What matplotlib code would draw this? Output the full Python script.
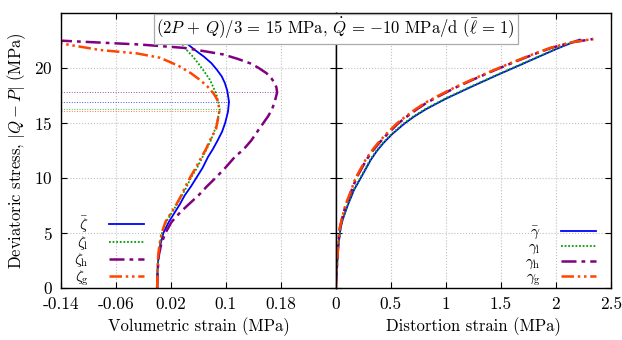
import numpy as np
import matplotlib
matplotlib.use("Agg")
from matplotlib import pyplot as plt

plt.rcParams['font.family'] = 'serif'
plt.rcParams['font.serif'] = ['cmr10']
plt.rcParams['mathtext.fontset'] = 'cm'
plt.rcParams['axes.unicode_minus'] = False
plt.rcParams['axes.formatter.use_mathtext'] = True

# deviatoric stress levels (MPa) and strains
# volumetric strain, left panel
zbar_q = [0, 1.5, 3, 4, 5, 6, 6.9, 7.6, 8.4, 9.2, 10, 10.9, 11.9, 12.6, 13.4, 14.2, 15, 16, 16.9,
          17.9, 18.6, 19.2, 19.8, 20.4, 21.0, 21.6, 22.1, 22.55]
zbar_e = [0, 0.0005, 0.002, 0.005, 0.009, 0.017, 0.026, 0.033, 0.040, 0.049, 0.057, 0.066, 0.074, 0.081, 0.088,
          0.0945, 0.099, 0.103, 0.1045, 0.102, 0.0985, 0.094, 0.087, 0.079, 0.068, 0.055, 0.045, 0.036]

zl_q = [0, 1.5, 3, 4, 5, 6, 6.9, 7.6, 8.4, 9.2, 10, 10.9, 11.9, 12.6, 13.4, 14.2, 15, 16.25, 17.0,
        17.7, 18.9, 19.6, 20.4, 21.0, 21.6, 22.1, 22.55]
zl_e = [0, 0.0004, 0.0016, 0.004, 0.007, 0.013, 0.022, 0.029, 0.036, 0.043, 0.049, 0.058, 0.066, 0.072, 0.078,
        0.083, 0.087, 0.091, 0.0885, 0.0855, 0.0767, 0.069, 0.0597, 0.052, 0.043, 0.037, 0.0306]

zh_q = [0, 1.5, 3, 4, 5, 6, 6.9, 7.6, 8.4, 9.2, 10, 10.9, 11.9, 12.6, 13.4, 14.4, 15.6, 16.2, 16.9,
        17.75, 18.2, 18.6, 19.0, 19.5, 20.0, 20.4, 20.8, 21.2, 21.5, 21.8, 22.1, 22.45, 22.55]
zh_e = [0, 0.0006, 0.0025, 0.006, 0.012, 0.021, 0.034, 0.046, 0.060, 0.072, 0.085, 0.099, 0.113, 0.126, 0.137,
        0.148, 0.1615, 0.167, 0.171, 0.1745, 0.1735, 0.171, 0.1665, 0.159, 0.147, 0.135, 0.117, 0.096, 0.068,
        0.038, -0.025, -0.14, -0.17]

zg_q = [0, 1.5, 3, 4, 5, 6, 6.9, 7.6, 8.4, 9.2, 10, 10.9, 11.9, 12.6, 13.4, 14.4, 15.2, 16.05, 16.9,
        17.3, 17.7, 18.3, 18.9, 19.5, 20.1, 20.5, 20.9, 21.3, 21.6, 22.2, 22.5]
zg_e = [0, 0.0004, 0.0015, 0.0035, 0.0065, 0.012, 0.021, 0.028, 0.035, 0.041, 0.0476, 0.056, 0.0646, 0.071,
        0.0767, 0.0855, 0.088, 0.0905, 0.0888, 0.0855, 0.0815, 0.073, 0.062, 0.049, 0.033, 0.019, 0.004,
        -0.03, -0.083, -0.14, -0.17]

# distortion strain, right panel
gbar_q = [0, 1, 2.2, 3.75, 5.0, 5.52, 6.2, 7.46, 8.9, 10, 11.64, 12.4, 13.13, 13.95, 14.9, 15.55, 16.22,
          17.18, 18.3, 19.34, 20.26, 21.1, 21.8, 22.55]
gbar_e = [0, 0.005, 0.012, 0.022, 0.037, 0.045, 0.062, 0.106, 0.165, 0.227, 0.318, 0.370, 0.430, 0.51,
          0.621, 0.71, 0.818, 1.0, 1.24, 1.47, 1.68, 1.87, 2.03, 2.218]
gl_e = [0, 0.005, 0.012, 0.022, 0.037, 0.045, 0.061, 0.104, 0.162, 0.222, 0.312, 0.364, 0.424, 0.503,
        0.612, 0.70, 0.808, 0.99, 1.23, 1.46, 1.67, 1.86, 2.02, 2.21]

gg_q = [0, 1, 2.2, 3.75, 5.0, 5.52, 6.2, 7.46, 8.9, 10, 11.64, 12.4, 13.13, 13.95, 14.9, 15.5, 16.2,
        16.8, 17.5, 18.25, 18.97, 19.8, 20.62, 21.25, 21.8, 22.3, 22.6]
gg_e = [0, 0.004, 0.011, 0.020, 0.030, 0.037, 0.052, 0.085, 0.140, 0.180, 0.270, 0.322, 0.380, 0.455,
        0.550, 0.625, 0.720, 0.810, 0.940, 1.09, 1.25, 1.44, 1.64, 1.80, 1.95, 2.14, 2.34]
gh_e = [0, 0.004, 0.011, 0.020, 0.031, 0.038, 0.054, 0.088, 0.145, 0.187, 0.278, 0.331, 0.390, 0.466,
        0.562, 0.637, 0.733, 0.823, 0.953, 1.10, 1.26, 1.45, 1.65, 1.81, 1.96, 2.145, 2.34]

vol_ticks = [-0.14, -0.06, 0.02, 0.1, 0.18]
vol_labels = ['-0.14', '-0.06', '0.02', '0.1', '0.18']
dis_ticks = [0, 0.5, 1, 1.5, 2, 2.5]
dis_labels = ['0', '0.5', '1', '1.5', '2', '2.5']
q_ticks = [0, 5, 10, 15, 20]

c_blue = '#0000ff'
c_green = '#00a000'
c_purple = '#800080'
c_orange = '#ff4500'

st_blue = dict(color=c_blue, ls='-', lw=1.3)
st_green = dict(color=c_green, ls=(0, (1, 1)), lw=1.3)
st_purple = dict(color=c_purple, ls=(0, (6, 2, 1.5, 2)), lw=1.8)
st_orange = dict(color=c_orange, ls=(0, (5, 1.5, 1, 1.5, 1, 1.5)), lw=1.8)

fig, (ax1, ax2) = plt.subplots(1, 2, figsize=(6.22, 3.40), dpi=100, sharey=True)
fig.subplots_adjust(left=0.098, right=0.982, top=0.963, bottom=0.153, wspace=0)

# left panel
series = [(zbar_e, zbar_q, st_blue, r'$\bar{\zeta}$'),
          (zl_e, zl_q, st_green, r'$\zeta_\mathrm{l}$'),
          (zh_e, zh_q, st_purple, r'$\zeta_\mathrm{h}$'),
          (zg_e, zg_q, st_orange, r'$\zeta_\mathrm{g}$')]
for e, q, st, lab in series:
    ax1.plot(e, q, label=lab, **st)
    i = int(np.argmax(e))
    ax1.hlines(q[i], -0.14, e[i], color=st['color'], ls=':', lw=0.7, alpha=0.7)

ax1.set_xlim(-0.14, 0.26)
ax1.set_ylim(0, 25)
ax1.set_xticks(vol_ticks)
ax1.set_xticklabels(vol_labels)
ax1.set_yticks(q_ticks)
ax1.set_xlabel('Volumetric strain (MPa)', fontsize=12)
ax1.set_ylabel(r'Deviatoric stress, $|Q-P|$ (MPa)', fontsize=12)
ax1.legend(loc='lower left', bbox_to_anchor=(0.049, 0.0), frameon=False, markerfirst=False,
           fontsize=11, handlelength=2.3, handletextpad=1.3, labelspacing=-0.05,
           borderpad=0.0, borderaxespad=0.0)

# right panel
series2 = [(gbar_e, gbar_q, st_blue, r'$\bar{\gamma}$'),
           (gl_e, gbar_q, st_green, r'$\gamma_\mathrm{l}$'),
           (gh_e, gg_q, st_purple, r'$\gamma_\mathrm{h}$'),
           (gg_e, gg_q, st_orange, r'$\gamma_\mathrm{g}$')]
for e, q, st, lab in series2:
    ax2.plot(e, q, label=lab, **st)

ax2.set_xlim(0, 2.5)
ax2.set_xticks(dis_ticks)
ax2.set_xticklabels(dis_labels)
ax2.set_xlabel('Distortion strain (MPa)', fontsize=12)
ax2.legend(loc='lower right', bbox_to_anchor=(0.945, 0.0), frameon=False, markerfirst=False,
           fontsize=11, handlelength=2.3, handletextpad=1.3, labelspacing=-0.05,
           borderpad=0.0, borderaxespad=0.0)

for ax in (ax1, ax2):
    ax.grid(True, color='#c0c0c0', ls=':', lw=0.8)
    ax.tick_params(direction='in', top=True, right=True, length=4, width=0.8, labelsize=12.5)
    ax.tick_params(axis='x', pad=6)
    ax.tick_params(axis='y', pad=6)
    for s in ax.spines.values():
        s.set_linewidth(1.0)
ax2.tick_params(labelleft=False)

fig.text(0.5 * (0.098 + 0.982), 0.915,
         r'$(2P\,+\,Q)/3\,=\,15$ MPa, $\dot{Q}\,=\,{-}10$ MPa/d ($\bar{\ell}\,=\,1$)',
         ha='center', va='center', fontsize=12,
         bbox=dict(boxstyle='square,pad=0.15', fc='white', ec='#aaaaaa', lw=0.9))

plt.savefig('out.png', dpi=100)
